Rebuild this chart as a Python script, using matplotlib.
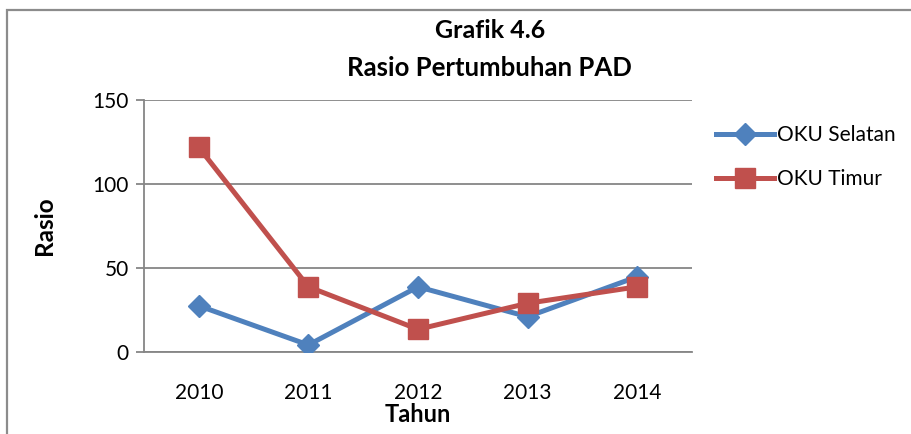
import matplotlib.pyplot as plt
from matplotlib.patches import Rectangle

plt.rcParams['font.family'] = ['Lato', 'DejaVu Sans']

tahun = ['2010', '2011', '2012', '2013', '2014']
oku_selatan = [27.5, 4.2, 38.8, 21.0, 44.8]
oku_timur = [121.8, 38.8, 13.5, 29.0, 38.8]

blue = '#4F81BD'
red = '#C0504D'
grid_c = '#868686'

fig = plt.figure(figsize=(9.12, 4.34), dpi=100)
ax = fig.add_axes([144 / 912, 1 - 352 / 434, 548 / 912, 252 / 434])

# outer chart border (only top/left visible in the crop)
fig.patches.append(Rectangle((7.5 / 912, -0.1), 1.2, 1 - 10.5 / 434 + 0.1,
                             transform=fig.transFigure, fill=False,
                             edgecolor='#8c8c8c', linewidth=1.6))

x = range(len(tahun))
ax.plot(x, oku_selatan, color=blue, lw=3.6, marker='D', ms=11,
        label='OKU Selatan', zorder=3)
ax.plot(x, oku_timur, color=red, lw=3.6, marker='s', ms=14,
        label='OKU Timur', zorder=4)

ax.set_xlim(-0.5, 4.5)
ax.set_ylim(0, 150)
ax.set_yticks([0, 50, 100, 150])
ax.set_xticks(list(x))
ax.set_xticklabels(tahun)
ax.yaxis.grid(True, color=grid_c, lw=1.3)
ax.set_axisbelow(True)
for s in ['top', 'right']:
    ax.spines[s].set_visible(False)
for s in ['left', 'bottom']:
    ax.spines[s].set_color(grid_c)
    ax.spines[s].set_linewidth(1.3)
ax.tick_params(axis='x', length=0, labelsize=15, pad=22)
ax.tick_params(axis='y', length=6, width=1.3, color=grid_c, labelsize=15, pad=5)

ax.set_xlabel('Tahun', fontsize=17, fontweight='bold', labelpad=0)
ax.set_ylabel('Rasio', fontsize=17.5, fontweight='bold', labelpad=26)

fig.text(490 / 912, 1 - 30 / 434, 'Grafik 4.6', ha='center', va='center',
         fontsize=18, fontweight='bold')
fig.text(489 / 912, 1 - 68 / 434, 'Rasio Pertumbuhan PAD', ha='center',
         va='center', fontsize=18.5, fontweight='bold')

ax.legend(loc='center left', bbox_to_anchor=(1.043, 0.772), frameon=False,
          fontsize=15, handlelength=2.8, handletextpad=0.15, labelspacing=1.15,
          borderaxespad=0, borderpad=0)

fig.savefig('out.png', dpi=100)
